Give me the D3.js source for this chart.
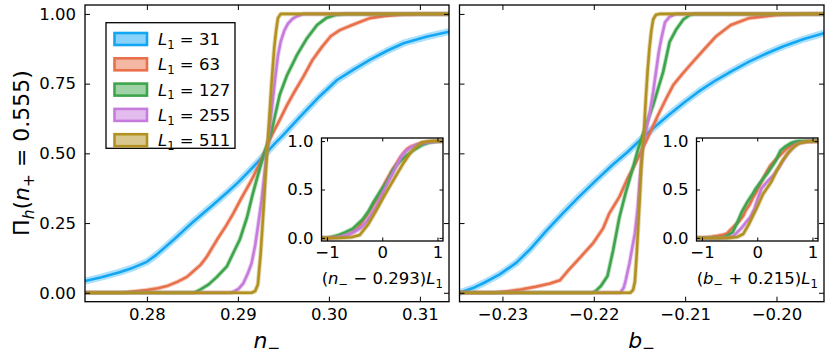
<!DOCTYPE html>
<html>
<head>
<meta charset="utf-8">
<script src="https://cdn.jsdelivr.net/npm/d3@7"></script>
<style>
    body { margin: 0; background: #fff; }
    text { font-family: "DejaVu Sans", sans-serif; fill: #000; }
    .frame { fill: none; stroke: #000; stroke-width: 1.3; }
    .tick line { stroke: #000; stroke-width: 1; }
</style>
</head>
<body>
<script>
(function(){
    //system sizes and their colours
    var sizes = [31, 63, 127, 255, 511];
    var colors = ["#13a6f4", "#e8704a", "#3fa54c", "#c77bdc", "#b1911f"];

    //tick values
    var yTicks = [0, 0.25, 0.5, 0.75, 1];
    var nTicks = [0.28, 0.29, 0.30, 0.31];
    var bTicks = [-0.23, -0.22, -0.21, -0.20];
    var insetYTicks = [0, 0.5, 1];
    var insetXTicks = [-1, 0, 1];

    //collapse centres used in the insets
    var nCenter = 0.293,
        bCenter = -0.215;

    //left panel curves, [n_-, Pi_h]
    var nCurve31 = [[0.2732,0.042],[0.2750,0.056],[0.2770,0.074],[0.2785,0.090],[0.2800,0.111],[0.2810,0.135],[0.2820,0.163],[0.2830,0.192],[0.2840,0.222],[0.2850,0.252],[0.2860,0.280],[0.2870,0.308],[0.2880,0.336],[0.2890,0.365],[0.2900,0.395],[0.2910,0.428],[0.2920,0.462],[0.2930,0.497],[0.2940,0.533],[0.2950,0.566],[0.2968,0.630],[0.2990,0.705],[0.3009,0.763],[0.3027,0.800],[0.3045,0.835],[0.3064,0.868],[0.3082,0.895],[0.3107,0.918],[0.3132,0.936]];
    var nCurve63 = [[0.2732,0],[0.2772,0],[0.2787,0.005],[0.2800,0.010],[0.2812,0.016],[0.2822,0.024],[0.2834,0.04],[0.2844,0.057],[0.2852,0.08],[0.2859,0.10],[0.2866,0.13],[0.2877,0.19],[0.2887,0.24],[0.2895,0.285],[0.2904,0.34],[0.2913,0.392],[0.2922,0.45],[0.2930,0.51],[0.2938,0.57],[0.2946,0.62],[0.2954,0.673],[0.2962,0.72],[0.2972,0.775],[0.2982,0.835],[0.2992,0.88],[0.3002,0.92],[0.3012,0.942],[0.3027,0.962],[0.3045,0.985],[0.3062,0.993],[0.3082,0.998],[0.3100,1],[0.3132,1]];
    var nCurve127 = [[0.2732,0],[0.2852,0],[0.2858,0.01],[0.2868,0.03],[0.2877,0.057],[0.2888,0.095],[0.2896,0.15],[0.2902,0.19],[0.2910,0.27],[0.2916,0.35],[0.2921,0.41],[0.2928,0.49],[0.2937,0.58],[0.2946,0.71],[0.2954,0.78],[0.2965,0.853],[0.2976,0.913],[0.2987,0.96],[0.2997,0.985],[0.3007,0.996],[0.3017,1],[0.3132,1]];
    var nCurve255 = [[0.2732,0],[0.2892,0],[0.2896,0.005],[0.2901,0.015],[0.2906,0.034],[0.2911,0.07],[0.2915,0.105],[0.2919,0.17],[0.2922,0.237],[0.2926,0.33],[0.2930,0.45],[0.2934,0.57],[0.2938,0.68],[0.2941,0.77],[0.2944,0.85],[0.2947,0.90],[0.2951,0.94],[0.2955,0.965],[0.2960,0.982],[0.2965,0.992],[0.2972,1],[0.3132,1]];
    var nCurve511 = [[0.2732,0],[0.2915,0],[0.2919,0.006],[0.2922,0.03],[0.2925,0.14],[0.2928,0.29],[0.2931,0.45],[0.2934,0.60],[0.2937,0.75],[0.2940,0.88],[0.2942,0.94],[0.2944,0.985],[0.2947,1],[0.3132,1]];

    //right panel curves, [b_-, Pi_h]
    var bCurve31 = [[-0.2347,0],[-0.2340,0.008],[-0.2330,0.02],[-0.2320,0.036],[-0.2303,0.066],[-0.2285,0.107],[-0.2270,0.155],[-0.2252,0.222],[-0.2234,0.285],[-0.2216,0.345],[-0.2197,0.405],[-0.2179,0.46],[-0.2163,0.505],[-0.2150,0.545],[-0.2135,0.59],[-0.2117,0.64],[-0.2100,0.685],[-0.2085,0.722],[-0.2066,0.763],[-0.2048,0.797],[-0.2030,0.829],[-0.2011,0.858],[-0.1993,0.883],[-0.1970,0.91],[-0.1948,0.931]];
    var bCurve63 = [[-0.2347,0],[-0.2310,0],[-0.2295,0.005],[-0.2280,0.012],[-0.2263,0.022],[-0.2248,0.033],[-0.2237,0.045],[-0.2228,0.08],[-0.2219,0.112],[-0.2201,0.177],[-0.2190,0.23],[-0.2183,0.285],[-0.2172,0.344],[-0.2163,0.41],[-0.2155,0.46],[-0.2147,0.515],[-0.2139,0.57],[-0.2130,0.635],[-0.2121,0.695],[-0.2113,0.745],[-0.2103,0.785],[-0.2095,0.815],[-0.2080,0.87],[-0.2066,0.92],[-0.2050,0.96],[-0.2030,0.985],[-0.2000,0.996],[-0.1970,1],[-0.1948,1]];
    var bCurve127 = [[-0.2347,0],[-0.2202,0],[-0.2198,0.006],[-0.2192,0.025],[-0.2185,0.06],[-0.2179,0.15],[-0.2172,0.27],[-0.2165,0.36],[-0.2157,0.45],[-0.2152,0.51],[-0.2144,0.59],[-0.2135,0.673],[-0.2124,0.793],[-0.2117,0.90],[-0.2110,0.943],[-0.2102,0.98],[-0.2095,0.996],[-0.2090,1],[-0.1948,1]];
    var bCurve255 = [[-0.2347,0],[-0.2172,0],[-0.2170,0.004],[-0.2167,0.02],[-0.2165,0.046],[-0.2161,0.105],[-0.2158,0.16],[-0.2155,0.213],[-0.2152,0.30],[-0.2150,0.39],[-0.2147,0.51],[-0.2143,0.58],[-0.2139,0.64],[-0.2135,0.72],[-0.2132,0.79],[-0.2129,0.86],[-0.2126,0.913],[-0.2122,0.97],[-0.2117,0.99],[-0.2110,1],[-0.1948,1]];
    var bCurve511 = [[-0.2347,0],[-0.2160,0],[-0.2157,0.01],[-0.2155,0.04],[-0.2153,0.14],[-0.2150,0.32],[-0.2148,0.45],[-0.2145,0.58],[-0.2143,0.70],[-0.2141,0.80],[-0.2139,0.88],[-0.2137,0.94],[-0.2135,0.98],[-0.2132,0.997],[-0.2128,1],[-0.1948,1]];

    var nCurves = [nCurve31, nCurve63, nCurve127, nCurve255, nCurve511];
    var bCurves = [bCurve31, bCurve63, bCurve127, bCurve255, bCurve511];

    var tickFont = 16.5;

    window.onload = setChart();

    function setChart(){
        var svg = d3.select("body")
            .append("svg")
            .attr("width", 830)
            .attr("height", 360);

        //left panel, n_-
        drawPanel(svg, {
            id: "left",
            left: 85, right: 449, top: 5, bottom: 301.7,
            xDomain: [0.2732, 0.3132],
            ticks: nTicks,
            curves: nCurves,
            center: nCenter,
            showY: true,
            xlabel: [["n", "i"], ["\u2212", "sub"]],
            inset: {left: 321.5, right: 443, top: 138, bottom: 241},
            insetLabel: [["(", ""], ["n", "i"], ["\u2212", "sub"], [" \u2212 0.293)", ""], ["L", "i"], ["1", "sub"]]
        });

        //right panel, b_-
        drawPanel(svg, {
            id: "right",
            left: 459.5, right: 824, top: 5, bottom: 301.7,
            xDomain: [-0.2347, -0.1948],
            ticks: bTicks,
            curves: bCurves,
            center: bCenter,
            showY: false,
            xlabel: [["b", "i"], ["\u2212", "sub"]],
            inset: {left: 696.5, right: 818, top: 138, bottom: 241},
            insetLabel: [["(", ""], ["b", "i"], ["\u2212", "sub"], [" + 0.215)", ""], ["L", "i"], ["1", "sub"]]
        });

        //y label
        var ylab = svg.append("text")
            .attr("transform", "translate(29,153) rotate(-90)")
            .attr("text-anchor", "middle")
            .attr("font-size", 22);
        mathText(ylab, [["\u03a0", ""], ["h", "subi"], ["(", ""], ["n", "i"], ["+", "sub"], [" = 0.555)", ""]], 22);

        setLegend(svg);
    };

    function drawPanel(svg, p){
        var x = d3.scaleLinear().domain(p.xDomain).range([p.left, p.right]);
        var y = d3.scaleLinear().domain([-0.032, 1.032]).range([p.bottom, p.top]);

        svg.append("clipPath")
            .attr("id", p.id + "Clip")
            .append("rect")
            .attr("x", p.left)
            .attr("y", p.top)
            .attr("width", p.right - p.left)
            .attr("height", p.bottom - p.top);

        var lineGen = d3.line()
            .x(function(d){ return x(d[0]); })
            .y(function(d){ return y(d[1]); });

        var plot = svg.append("g").attr("clip-path", "url(#" + p.id + "Clip)");
        drawCurves(plot, p.curves, lineGen, true);

        //axes with inward ticks on all four sides
        addAxis(svg, d3.axisBottom(x).tickValues(p.ticks).tickFormat(d3.format(".2f")), "translate(0," + p.bottom + ")", 5, 7);
        addAxis(svg, d3.axisTop(x).tickValues(p.ticks).tickFormat(""), "translate(0," + p.top + ")", 5, 7);
        addAxis(svg, d3.axisLeft(y).tickValues(yTicks).tickFormat(p.showY ? d3.format(".2f") : ""), "translate(" + p.left + ",0)", 5, 9);
        addAxis(svg, d3.axisRight(y).tickValues(yTicks).tickFormat(""), "translate(" + p.right + ",0)", 5, 9);

        svg.append("rect")
            .attr("class", "frame")
            .attr("x", p.left)
            .attr("y", p.top)
            .attr("width", p.right - p.left)
            .attr("height", p.bottom - p.top);

        //x label
        var xlab = svg.append("text")
            .attr("x", (p.left + p.right) / 2)
            .attr("y", 348)
            .attr("text-anchor", "middle")
            .attr("font-size", 22);
        mathText(xlab, p.xlabel, 22);

        drawInset(svg, p);
    };

    function drawInset(svg, p){
        var b = p.inset;
        var x = d3.scaleLinear().domain([-1.1, 1.1]).range([b.left, b.right]);
        var y = d3.scaleLinear().domain([-0.032, 1.032]).range([b.bottom, b.top]);

        svg.append("rect")
            .attr("x", b.left)
            .attr("y", b.top)
            .attr("width", b.right - b.left)
            .attr("height", b.bottom - b.top)
            .style("fill", "#fff");

        svg.append("clipPath")
            .attr("id", p.id + "InsetClip")
            .append("rect")
            .attr("x", b.left)
            .attr("y", b.top)
            .attr("width", b.right - b.left)
            .attr("height", b.bottom - b.top);

        //rescaled x: (x - centre) * L1, smallest size left out
        var scaled = p.curves.map(function(c, i){
            return c.map(function(d){ return [(d[0] - p.center) * sizes[i], d[1]]; });
        });

        var lineGen = d3.line()
            .x(function(d){ return x(d[0]); })
            .y(function(d){ return y(d[1]); });

        var g = svg.append("g").attr("clip-path", "url(#" + p.id + "InsetClip)");
        drawCurves(g, scaled, lineGen, false);

        addAxis(svg, d3.axisBottom(x).tickValues(insetXTicks).tickFormat(d3.format("d")), "translate(0," + b.bottom + ")", 3.5, 5.3);
        addAxis(svg, d3.axisTop(x).tickValues(insetXTicks).tickFormat(""), "translate(0," + b.top + ")", 3.5, 6);
        addAxis(svg, d3.axisLeft(y).tickValues(insetYTicks).tickFormat(d3.format(".1f")), "translate(" + b.left + ",0)", 3.5, 8);
        addAxis(svg, d3.axisRight(y).tickValues(insetYTicks).tickFormat(""), "translate(" + b.right + ",0)", 3.5, 6);

        svg.append("rect")
            .attr("class", "frame")
            .attr("x", b.left)
            .attr("y", b.top)
            .attr("width", b.right - b.left)
            .attr("height", b.bottom - b.top);

        var lab = svg.append("text")
            .attr("x", (b.left + b.right) / 2)
            .attr("y", 284)
            .attr("text-anchor", "middle")
            .attr("font-size", tickFont);
        mathText(lab, p.insetLabel, tickFont);
    };

    function drawCurves(g, curves, lineGen, withFirst){
        curves.forEach(function(c, i){
            if (!withFirst && i == 0) return;
            //light band behind each line
            g.append("path")
                .datum(c)
                .attr("d", lineGen)
                .style("fill", "none")
                .style("stroke", colors[i])
                .style("stroke-opacity", 0.35)
                .style("stroke-width", i == 0 ? 7 : 4.5)
                .style("stroke-linejoin", "round");
            g.append("path")
                .datum(c)
                .attr("d", lineGen)
                .style("fill", "none")
                .style("stroke", colors[i])
                .style("stroke-width", 2.6)
                .style("stroke-linejoin", "round")
                .style("stroke-linecap", "round");
        });
    };

    function addAxis(svg, axis, transform, size, pad){
        var g = svg.append("g")
            .attr("transform", transform)
            .call(axis.tickSizeInner(-size).tickSizeOuter(0).tickPadding(pad));
        g.attr("font-size", tickFont).attr("font-family", "DejaVu Sans, sans-serif");
        g.select(".domain").remove();
        g.selectAll(".tick text").style("fill", "#000");
        return g;
    };

    //text with italic parts and subscripts
    function mathText(textSel, parts, size){
        var shift = 0;
        parts.forEach(function(part){
            var sub = part[1] == "sub" || part[1] == "subi";
            var target = sub ? size * 0.22 : 0;
            var span = textSel.append("tspan")
                .attr("dy", target - shift)
                .text(part[0]);
            shift = target;
            if (sub) span.attr("font-size", size * 0.7);
            if (part[1] == "i" || part[1] == "subi") span.style("font-style", "italic");
        });
    };

    function setLegend(svg){
        var legend = svg.append("g");

        legend.append("rect")
            .attr("x", 106)
            .attr("y", 22.7)
            .attr("width", 129)
            .attr("height", 125.6)
            .style("fill", "#fff")
            .style("stroke", "#000")
            .style("stroke-width", 1.3);

        sizes.forEach(function(s, i){
            var cy = 39 + i * 25.3;
            legend.append("rect")
                .attr("x", 114.5)
                .attr("y", cy - 6)
                .attr("width", 32.5)
                .attr("height", 12)
                .style("fill", colors[i])
                .style("fill-opacity", 0.5)
                .style("stroke", colors[i])
                .style("stroke-width", 2.6);
            var t = legend.append("text")
                .attr("x", 158)
                .attr("y", cy + 6)
                .attr("font-size", tickFont);
            mathText(t, [["L", "i"], ["1", "sub"], [" = " + s, ""]], tickFont);
        });
    };
})();
</script>
</body>
</html>
